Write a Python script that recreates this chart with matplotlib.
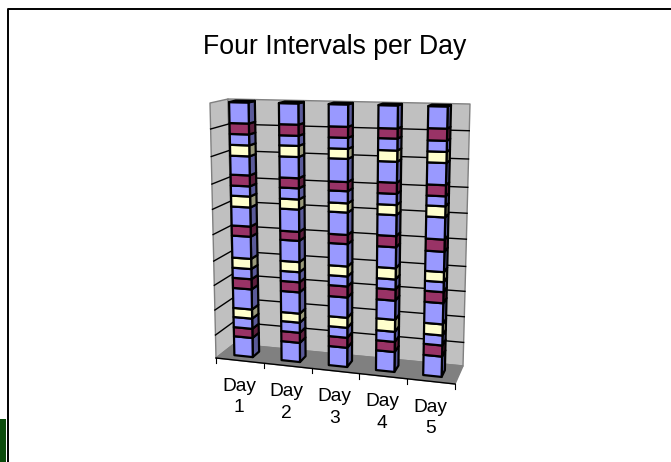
import numpy as np
import matplotlib
matplotlib.use("Agg")
import matplotlib.pyplot as plt
from matplotlib.patches import Polygon, Rectangle

title = "Four Intervals per Day"
days = ["Day\n1", "Day\n2", "Day\n3", "Day\n4", "Day\n5"]
day1 = [7.5, 3.6, 4.0, 3.6, 7.9, 4.0, 4.0, 4.0, 8.7, 4.0, 7.5, 4.3, 4.0, 4.3, 7.5, 4.3, 4.3, 4.3, 8.3]
day2 = [7.4, 3.9, 3.9, 3.5, 8.2, 3.9, 3.9, 3.9, 8.2, 3.5, 8.6, 3.9, 4.3, 3.9, 8.2, 4.3, 3.9, 4.3, 8.2]
day3 = [7.3, 3.8, 3.8, 3.8, 7.7, 4.2, 3.8, 3.8, 8.5, 3.5, 8.5, 3.5, 4.6, 3.5, 8.8, 3.8, 4.2, 4.2, 8.5]
day4 = [7.5, 3.8, 3.8, 4.5, 7.2, 4.2, 3.8, 4.2, 7.9, 4.2, 7.9, 3.8, 4.2, 4.2, 7.9, 4.2, 4.5, 3.8, 8.7]
day5 = [7.5, 4.1, 3.7, 4.1, 7.8, 4.1, 3.7, 3.7, 7.5, 4.5, 8.2, 4.1, 3.7, 4.1, 8.2, 4.1, 4.1, 4.5, 8.2]
all_days = [day1, day2, day3, day4, day5]
B, M, Y = "b", "m", "y"
kinds = [B, M, B, Y, B, M, B, Y, B, M, B, Y, B, M, B, Y, B, M, B]
grid_values = [9, 18.8, 28.5, 38, 48.4, 58.3, 68.2, 79, 89.8]

front_colors = {B: "#9999FF", M: "#993366", Y: "#FFFFCC"}
side_colors = {B: "#5A5A99", M: "#5C1F3D", Y: "#99997A"}

# Projection of the chart box: (category 0..5, depth 0..1, percent 0..100) to pixels
C_FB = np.array([[216, 358], [455, 384]], float)   # front bottom L, R
C_BB = np.array([[234, 344], [463, 366]], float)   # back bottom L, R
C_FT = np.array([[210, 103], [462, 108]], float)   # front top L, R
C_BT = np.array([[228, 99], [470, 104]], float)    # back top L, R


def proj(c, d, v):
    u, t = c / 5.0, v / 100.0
    bottom = (1 - d) * ((1 - u) * C_FB[0] + u * C_FB[1]) + d * ((1 - u) * C_BB[0] + u * C_BB[1])
    top = (1 - d) * ((1 - u) * C_FT[0] + u * C_FT[1]) + d * ((1 - u) * C_BT[0] + u * C_BT[1])
    return (1 - t) * bottom + t * top


fig = plt.figure(figsize=(6.71, 4.62), dpi=100)
ax = fig.add_axes([0, 0, 1, 1])
ax.set_xlim(0, 671)
ax.set_ylim(462, 0)
ax.axis("off")


def face(pts, fc, ec="black", lw=1.6, z=2):
    ax.add_patch(Polygon(pts, closed=True, facecolor=fc, edgecolor=ec, linewidth=lw, joinstyle="round", zorder=z))


# walls and floor
face([proj(0, 0, 0), proj(0, 1, 0), proj(0, 1, 100), proj(0, 0, 100)], "#C0C0C0", "#808080", 1.0, 1)
face([proj(0, 1, 0), proj(5, 1, 0), proj(5, 1, 100), proj(0, 1, 100)], "#C0C0C0", "#808080", 1.0, 1)
face([proj(0, 0, 0), proj(5, 0, 0), proj(5, 1, 0), proj(0, 1, 0)], "#808080", "#808080", 1.0, 1)
for g in grid_values:
    pts = np.array([proj(0, 0, g), proj(0, 1, g), proj(5, 1, g)])
    ax.plot(pts[:, 0], pts[:, 1], color="black", lw=1.0, zorder=1.5)

# axis line, ticks, labels
pts = np.array([proj(0, 0, 0), proj(5, 0, 0)])
ax.plot(pts[:, 0], pts[:, 1], color="black", lw=1.0, zorder=1.6)
for i in range(6):
    p = proj(i, 0, 0)
    ax.plot([p[0], p[0]], [p[1], p[1] + 5], color="black", lw=0.8, zorder=1.6)
for i, lab in enumerate(days):
    p = proj(i + 0.5, 0, 0)
    ax.text(p[0] - 1, p[1] + 36.5, lab, ha="center", va="center", family="Liberation Sans",
            fontsize=13.8, linespacing=1.35, color="black")

# stacked columns
BAR_L, BAR_R = 0.275, 0.665
DEP_F, DEP_B = 0.30, 0.68
for i, vals in enumerate(all_days):
    edges = np.concatenate([[0], np.cumsum(vals)])
    edges = edges * 100.0 / edges[-1]
    xl, xr = i + BAR_L, i + BAR_R
    for k, lo, hi in zip(kinds, edges[:-1], edges[1:]):
        face([proj(xr, DEP_F, lo), proj(xr, DEP_B, lo), proj(xr, DEP_B, hi), proj(xr, DEP_F, hi)],
             side_colors[k], z=3 + i)
        face([proj(xl, DEP_F, lo), proj(xr, DEP_F, lo), proj(xr, DEP_F, hi), proj(xl, DEP_F, hi)],
             front_colors[k], z=3 + i)
    face([proj(xl, DEP_F, 100), proj(xr, DEP_F, 100), proj(xr, DEP_B, 100), proj(xl, DEP_B, 100)],
         "#7A7ACC", z=3 + i)

ax.text(335, 47, title, ha="center", va="center", family="Liberation Sans", fontsize=19.2, color="black")

# slide frame and the green corner of the slide behind it
ax.plot([7.5, 7.5, 671], [462, 8.5, 8.5], color="black", lw=1.4, zorder=0.5)
ax.add_patch(Rectangle((0, 419), 5.5, 43, facecolor="#0A4A0A", edgecolor="none", zorder=0.5))

fig.savefig("out.png", dpi=100)
